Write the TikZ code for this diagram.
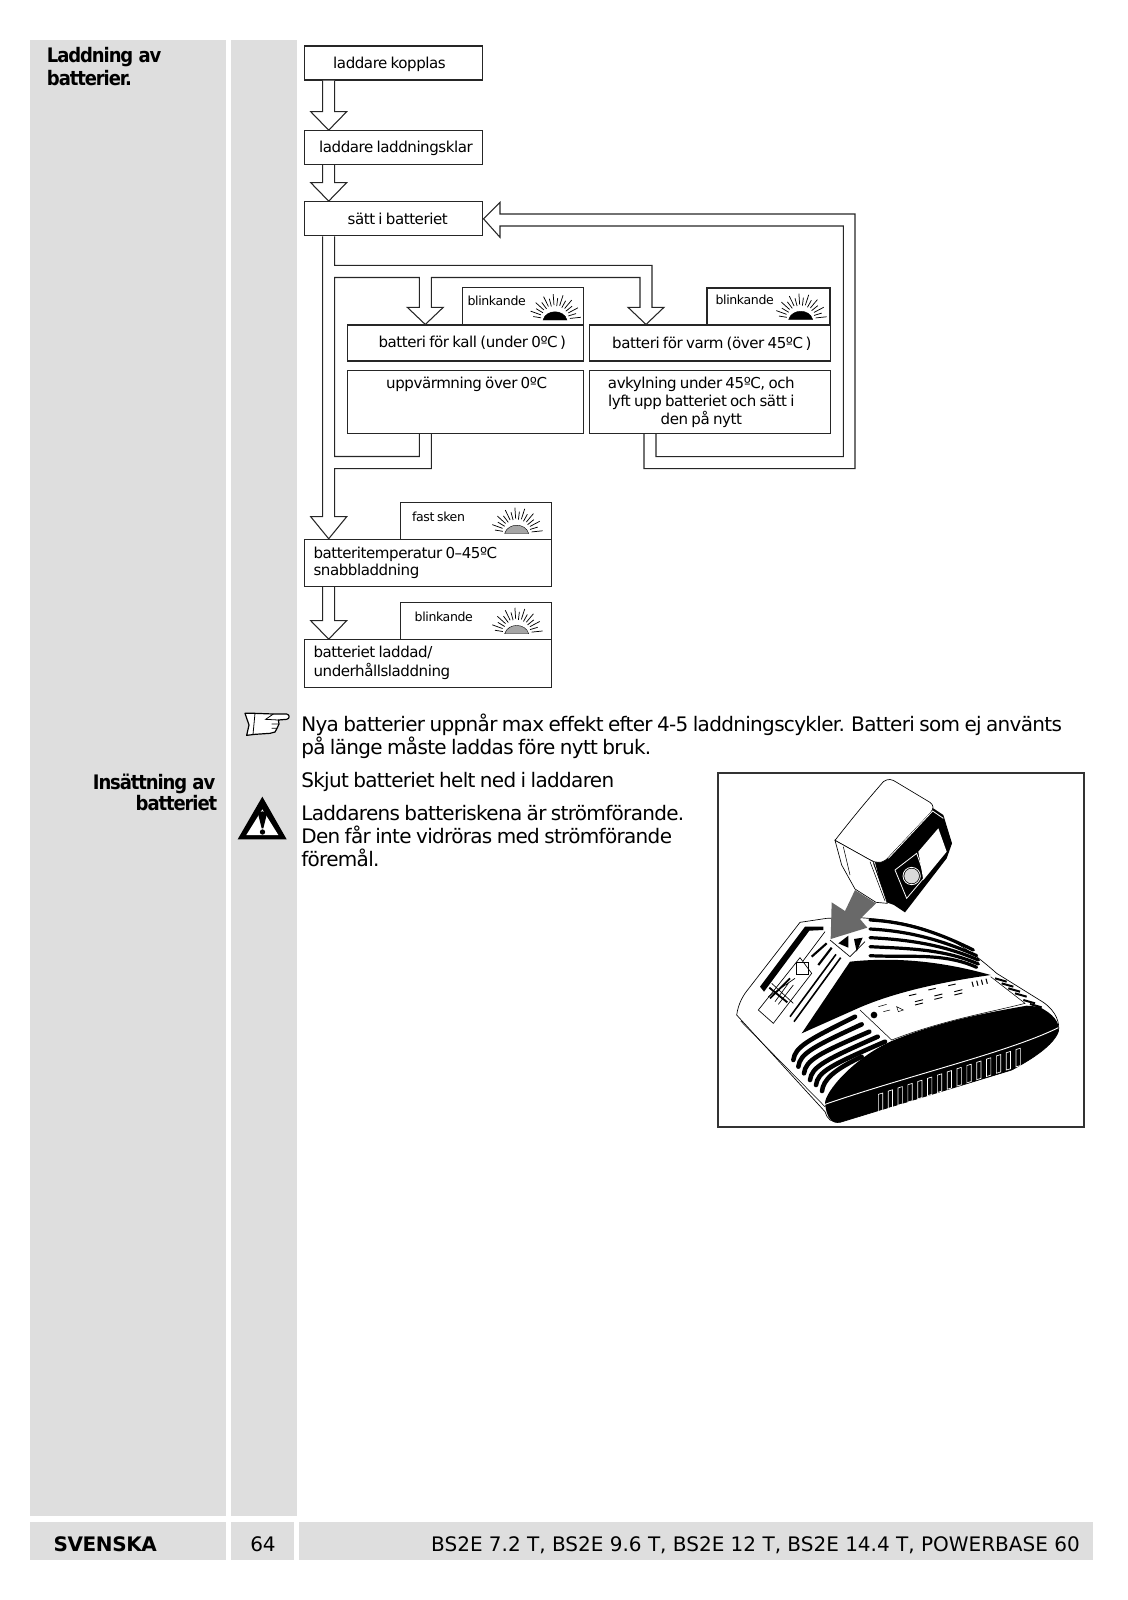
\documentclass[tikz,border=0pt]{standalone}
\usepackage{fontspec}
\usetikzlibrary{calc}
\newfontfamily\flowfont[LetterSpace=-3,WordSpace=0.75]{DejaVu Sans}
\newfontfamily\bodyfont[LetterSpace=-3.4,WordSpace=0.78]{DejaVu Sans}
\newfontfamily\footfont[LetterSpace=0]{DejaVu Sans}
\newfontfamily\headfont[LetterSpace=-5.5,FakeStretch=0.9]{DejaVu Sans Bold}
\newfontfamily\langfont[LetterSpace=-2]{DejaVu Sans Bold}
\definecolor{panelgray}{RGB}{222,222,222}
\definecolor{arrowgray}{RGB}{105,105,105}
\tikzset{
  panel/.style={fill=panelgray,draw=none},
  flowbox/.style 2 args={
    draw=black!85,
    line width=0.8pt,
    fill=white,
    inner sep=0pt,
    minimum width=#1*0.75pt,
    minimum height=#2*0.75pt
  },
  hollow/.style={draw=black!85,line width=0.8pt,fill=white,line join=miter},
  shaft/.style={draw=black!85,line width=0.8pt},
  flowtext/.style={anchor=base,inner sep=0pt,align=center,
    font=\flowfont\fontsize{11.3}{13.5}\selectfont},
  flowleft/.style={flowtext,anchor=base west,align=left},
  smalltext/.style={anchor=base,inner sep=0pt,
    font=\flowfont\fontsize{9.4}{11}\selectfont},
  bodytext/.style={anchor=base west,inner sep=0pt,
    font=\bodyfont\fontsize{15}{18}\selectfont},
  headtext/.style={inner sep=0pt,
    font=\headfont\fontsize{15}{17}\selectfont},
  foottext/.style={anchor=base,inner sep=0pt,
    font=\footfont\fontsize{15}{18}\selectfont},
  band/.style={black,line cap=round},
  sunburst/.pic={
    \fill[draw=black,line width=0.3pt,fill=#1] (-12,0) .. controls (-9,-11) and (9,-11) .. (12,0) -- cycle;
    \foreach \a in {6,28,50,72,94,116,138,160} {
      \draw[line width=0.55pt] (-\a:15) -- (-\a:26);
    }
    \foreach \a in {17,39,61,83,105,127,149,171} {
      \draw[line width=0.55pt] (-\a:14) -- (-\a:22);
    }
  }
}
% hollow arrow straight down from one box to the next
\newcommand{\hollowdown}[3]{
  \pgfmathsetmacro{\sl}{#3-6}
  \pgfmathsetmacro{\sr}{#3+6}
  \pgfmathsetmacro{\hl}{#3-18}
  \pgfmathsetmacro{\hr}{#3+18}
  \draw[hollow] (\sl,0 |- #1.south) -- ($(\sl,0 |- #2.north)+(0,-18.5)$)
    -- ($(\hl,0 |- #2.north)+(0,-18.5)$) -- (#3,0 |- #2.north)
    -- ($(\hr,0 |- #2.north)+(0,-18.5)$) -- ($(\sr,0 |- #2.north)+(0,-18.5)$)
    -- (\sr,0 |- #1.south);
}
\begin{document}
\begin{tikzpicture}[x=0.75pt,y=-0.75pt]
    \useasboundingbox (0,0) rectangle (1128,1600);

    % panels
    \fill[panel] (30.3,40) rectangle (225.7,1515.5);
    \fill[panel] (231,40) rectangle (296.7,1515.5);
    \fill[panel] (30.3,1521.7) rectangle (225.7,1559.5);
    \fill[panel] (231,1521.7) rectangle (294,1559.5);
    \fill[panel] (299.3,1521.7) rectangle (1093,1559.5);

    % headings
    \node[headtext,anchor=base west] (headladd) at (46.7,62.3) {Laddning av};
    \node[headtext,anchor=base west] (headbatt) at (46.7,85) {batterier.};
    \node[headtext,anchor=base east] (headins) at (215.5,789) {Insättning av};
    \node[headtext,anchor=base east] (headbat) at (217.5,810.5) {batteriet};

    % flow boxes
    \node[flowbox={178.3}{34}] (kopplas) at (393.8,63) {};
    \node[flowbox={178.3}{34}] (klar) at (393.8,147.7) {};
    \node[flowbox={178.3}{34.3}] (satt) at (393.8,218.8) {};
    \node[flowbox={236}{36}] (kall) at (465.3,343) {};
    \node[flowbox={236}{62.6}] (uppv) at (465.3,402) {};
    \node[flowbox={240.7}{36}] (varm) at (709.7,343) {};
    \node[flowbox={240.7}{62.6}] (avk) at (709.7,402) {};
    \node[flowbox={120.6}{37.3}] (blinkkall) at (523,306.3) {};
    \node[flowbox={123}{37}] (blinkvarm) at (768.5,306.5) {};
    \node[flowbox={247}{47.4}] (temp) at (428.2,563) {};
    \node[flowbox={151.4}{37}] (blinkfast) at (476,520.8) {};
    \node[flowbox={247}{47.4}] (laddad) at (428.2,663.4) {};
    \node[flowbox={151.4}{37}] (blinkladd) at (476,621.2) {};

    % box texts
    \node[flowtext] (tkopplas) at (389.5,68.5) {laddare kopplas};
    \node[flowtext] (tklar) at (396,152.5) {laddare laddningsklar};
    \node[flowtext] (tsatt) at (397.7,224) {sätt i batteriet};
    \node[flowtext] (tkall) at (472.3,347.7) {batteri för kall (under 0ºC\,)};
    \node[flowtext] (tvarm) at (711.8,348.3) {batteri för varm (över 45ºC\,)};
    \node[flowtext] (tuppv) at (466.6,388) {uppvärmning över 0ºC};
    \node[flowtext] (tavk1) at (701.3,388) {avkylning under 45ºC, och};
    \node[flowtext] (tavk2) at (701.3,406) {lyft upp batteriet och sätt i};
    \node[flowtext] (tavk3) at (701.3,424) {den på nytt};
    \node[flowleft] (ttemp1) at (313.3,558.3) {batteritemperatur 0–45ºC};
    \node[flowleft] (ttemp2) at (313.3,575.5) {snabbladdning};
    \node[flowleft] (tladd1) at (313.3,657.8) {batteriet laddad/};
    \node[flowleft] (tladd2) at (313.3,676) {underhållsladdning};
    \node[smalltext] (tblinkkall) at (496.7,305) {blinkande};
    \node[smalltext] (tblinkvarm) at (744.7,304) {blinkande};
    \node[smalltext] (tfast) at (438.5,521) {fast sken};
    \node[smalltext] (tblinkladd) at (443.8,621) {blinkande};

    % lamps
    \pic at (555,320) {sunburst=black};
    \pic at (800.7,319.5) {sunburst=black};
    \pic at (516.7,533.5) {sunburst=black!35};
    \pic at (516.7,633.7) {sunburst=black!35};

    % straight arrows
    \hollowdown{kopplas}{klar}{328.7}
    \hollowdown{klar}{satt}{328.7}
    \hollowdown{temp}{laddad}{328.7}

    % loop through kall and varm
    \draw[shaft] (334.7,0 |- satt.south) -- (334.7,265.3) -- (652,265.3) -- (652,307.3)
      -- (664,307.3) -- (646,0 |- varm.north) -- (628,307.3) -- (640,307.3)
      -- (640,277.5) -- (431.3,277.5) -- (431.3,307.3) -- (443.3,307.3)
      -- (425.3,0 |- kall.north) -- (407.3,307.3) -- (419.3,307.3) -- (419.3,277.5)
      -- (334.7,277.5) -- (334.7,456.5) -- (419.3,456.5) -- (419.3,0 |- uppv.south);
    \draw[shaft] (431.3,0 |- uppv.south) -- (431.3,468.7) -- (334.7,468.7) -- (334.7,516.7)
      -- (346.7,516.7) -- (328.7,0 |- temp.north) -- (310.7,516.7) -- (322.7,516.7)
      -- (322.7,0 |- satt.south);

    % back to satt
    \draw[shaft] (644,0 |- avk.south) -- (644,468.7) -- (855,468.7) -- (855,214) -- (500,214)
      -- (500,202.3) -- (satt.east) -- (500,237.3) -- (500,226) -- (843.3,226)
      -- (843.3,456.7) -- (656,456.7) -- (656,0 |- avk.south);

    % body text
    \node[bodytext] (nya1) at (301,731.5) {Nya batterier uppnår max effekt efter 4-5 laddningscykler. Batteri som ej använts};
    \node[bodytext] (nya2) at (301,754.5) {på länge måste laddas före nytt bruk.};
    \node[bodytext] (skjut) at (301,787.5) {Skjut batteriet helt ned i laddaren};
    \node[bodytext] (ladd1) at (301,820.5) {Laddarens batteriskena är strömförande.};
    \node[bodytext] (ladd2) at (301,843.5) {Den får inte vidröras med strömförande};
    \node[bodytext] (ladd3) at (301,866.5) {föremål.};

    % footer
    \node[foottext,anchor=base west,font=\langfont\fontsize{15}{18}\selectfont] (svenska) at (53.3,1551.7) {SVENSKA};
    \node[foottext] (page) at (263,1551.7) {64};
    \node[foottext,anchor=base east] (models) at (1080,1551.7) {BS2E 7.2 T, BS2E 9.6 T, BS2E 12 T, BS2E 14.4 T, POWERBASE 60};

    % hand and warning sign
    \begin{scope}[shift={(225,700)},x=0.25pt,y=-0.25pt]
      \draw[line width=0.9pt,fill=white,line join=round] (60,40) -- (90,40) -- (145,42) -- (185,42)
        .. controls (195,44) and (195,56) .. (185,58) -- (160,60) -- (162,72) -- (156,85)
        -- (150,96) -- (135,100) -- (90,103) -- (65,106) -- (72,75) -- cycle;
      \draw[line width=0.6pt] (90,40) -- (84,103) (145,42) -- (122,58) -- (160,60)
        (162,72) -- (140,72) (156,85) -- (140,85);
      \fill (112,290) -- (185,418) -- (38,418) -- cycle;
      \fill[white] (112,328) -- (160,405) -- (64,405) -- cycle;
      \fill (100,345) .. controls (100,330) and (125,330) .. (125,345) -- (115,385) -- (110,385) -- cycle;
      \fill (112.5,396) circle (8);
    \end{scope}

    % picture frame
    \draw[draw=black!80,line width=0.8pt] (718,773) rectangle (1084,1127);

    % charger and battery
    \begin{scope}[shift={(710,765)},x=0.25pt,y=-0.25pt]
      % body
      \draw[line width=0.5pt,fill=white] (80,750) .. controls (85,715) and (100,690) .. (115,672)
        -- (270,472) -- (350,460) -- (450,458) .. controls (620,470) and (720,500) .. (860,625)
        -- (1000,712) .. controls (1040,740) and (1050,775) .. (1045,800)
        .. controls (1030,840) and (970,880) .. (905,915) -- (390,1072)
        .. controls (365,1075) and (350,1060) .. (345,1040) -- cycle;
      \draw[line width=0.4pt] (92,768) -- (345,1025);
      % front shell
      \fill (345,1015) .. controls (345,980) and (430,880) .. (545,828)
        .. controls (700,765) and (850,740) .. (950,722) -- (985,725)
        .. controls (1030,745) and (1052,775) .. (1045,800)
        .. controls (1030,840) and (970,880) .. (905,915) -- (390,1072)
        .. controls (365,1075) and (350,1060) .. (345,1015) -- cycle;
      \draw[white,line width=0.7pt] (345,1018) .. controls (600,930) and (900,860) .. (1045,788);
      \foreach \i in {0,...,14} {
        \pgfmathsetmacro{\sx}{505+\i*29.5}
        \pgfmathsetmacro{\sy}{1040-\i*9.6}
        \draw[white,line width=0.5pt] (\sx,\sy) -- (\sx,\sy-52) -- (\sx+13,\sy-56) -- (\sx+13,\sy-4) -- cycle;
      }
      % roof
      \fill (420,590) .. controls (560,575) and (700,590) .. (842,630)
        .. controls (700,650) and (560,680) .. (450,727) -- (275,805) -- cycle;
      % top bands
      \foreach \ya/\xb/\yb in {465/790/555,492/800/572,518/805/585,545/805/597,572/800/607} {
        \draw[band,line width=2.4pt] (480,\ya) .. controls (600,\ya+6) and (700,\yb-45) .. (\xb,\yb);
      }
      % lower left bands
      \foreach \xa/\ya/\xb/\yb in {250/885/435/755,265/905/455/778,282/925/478/800,300/945/503/815,318/960/525/830} {
        \draw[band,line width=3.4pt] (\xa,\ya) .. controls (\xa+5,\ya-40) and (\xa+45,\ya-60) .. (\xb,\yb);
      }
      \draw[band,line width=3.4pt] (336,978) .. controls (340,945) and (370,915) .. (455,875);
      % side bars
      \foreach \xa/\ya in {855/640,875/655,895/670,915/685,940/705,960/717} {
        \draw[line width=1.5pt] (\xa,\ya) -- (\xa+35,\ya+10);
      }
      % panel
      \draw[line width=0.4pt] (450,735) -- (545,825) .. controls (700,765) and (850,740) .. (945,715) -- (842,635);
      \fill (492,750) circle (10);
      \draw[line width=0.4pt] (505,725) -- (530,718) (520,740) -- (540,735) (560,725) -- (580,735) -- (565,740) -- cycle;
      \foreach \x/\y in {597/692,655/675,715/662} {
        \draw[line width=0.7pt] (\x,\y) -- (\x+22,\y-5) (\x+18,\y+18) -- (\x+42,\y+12) (\x+18,\y+28) -- (\x+42,\y+22);
      }
      \foreach \i in {0,1,2,3} {
        \draw[line width=0.8pt] (790+\i*14,665-\i*3) -- (786+\i*14,650-\i*3);
      }
      % tray
      \fill (150,665) -- (285,485) -- (340,485) -- (340,495) -- (298,497) -- (162,680) -- cycle;
      \draw[line width=1.2pt] (240,755) -- (378,568) (252,770) -- (392,578);
      \draw[line width=1.6pt] (305,575) -- (350,535) (325,600) -- (365,548);
      \draw[line width=0.5pt] (345,500) -- (270,600) (360,525) -- (420,575) -- (465,530);
      \fill (385,535) -- (415,512) -- (415,548) -- cycle;
      \fill (432,522) -- (458,518) -- (440,560) -- cycle;
      % label
      \draw[line width=0.5pt,fill=white] (145,735) -- (190,775) -- (305,625) -- (270,578) -- cycle;
      \draw[line width=0.5pt] (258,592) rectangle (296,628);
      \draw[line width=0.5pt] (185,655) -- (250,715) (175,695) -- (255,640) (195,710) -- (235,655) (205,718) -- (250,660);
      \draw[line width=1.4pt] (178,668) -- (232,712) (180,700) -- (240,640);
      % battery
      \fill (495,292) -- (670,130) -- (700,150) -- (726,235) -- (710,280) -- (585,442) -- (552,420) -- (525,410) -- cycle;
      \draw[line width=0.5pt,fill=white] (375,226) .. controls (450,130) and (490,85) .. (520,50)
        .. controls (535,40) and (545,42) .. (560,52) -- (660,112) .. controls (672,122) and (672,130) .. (660,145)
        -- (540,272) .. controls (520,298) and (500,295) .. (480,285) -- cycle;
      \draw[line width=0.5pt,fill=white] (375,226) -- (395,300) -- (435,372) -- (498,412) -- (532,415)
        -- (490,290) -- cycle;
      \draw[line width=0.4pt] (400,245) -- (420,330) (480,290) -- (525,408) (490,295) -- (535,410);
      \draw[white,line width=0.6pt] (535,280) -- (668,138) -- (700,160);
      \fill[white] (625,260) -- (685,190) -- (710,260) -- (640,345) -- cycle;
      \draw[white,line width=0.6pt] (555,315) -- (620,265) -- (645,335) -- (590,400) -- cycle;
      \fill[black!15] (605,333) circle (22);
      \draw[white,line width=0.6pt] (605,333) circle (26);
      % arrow
      \fill[arrowgray] (362,522) -- (365,412) -- (405,438) -- (435,375) -- (498,415) -- (450,462) -- (472,488) -- cycle;
    \end{scope}

\end{tikzpicture}
\end{document}
